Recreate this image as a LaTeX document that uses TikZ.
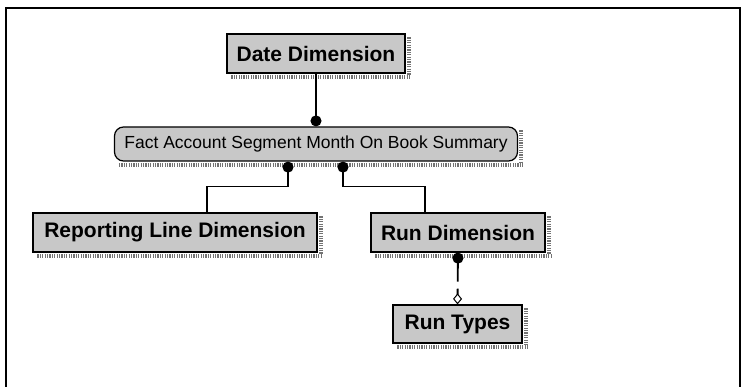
\documentclass[tikz,border=0pt]{standalone}
\usepackage{fontspec}
\setmainfont{Liberation Sans}
\usetikzlibrary{arrows.meta}
\definecolor{boxgray}{RGB}{200,200,200}
\definecolor{shd}{RGB}{115,115,115}
\tikzstyle{ent}=[rectangle,draw=black,line width=1.2pt,fill=boxgray,inner sep=0pt,font=\fontsize{21}{24}\selectfont\bfseries]
\tikzstyle{fct}=[ent,rounded corners=9pt,font=\fontsize{17.5}{20}\selectfont]
\tikzstyle{rel}=[line width=1.2pt,black]
\tikzstyle{shad}=[shd,line width=4pt,dash pattern=on 1.2pt off 1.2pt]

\begin{document}
\begin{tikzpicture}[x=1pt,y=-1pt]
\useasboundingbox (0,0) rectangle (748,387);
\draw[line width=2.8pt] (6,387) -- (6,8) -- (740,8) -- (740,387);
\node[ent,minimum width=178pt,minimum height=39pt] (date) at (316,53.5) {Date Dimension};
\node[fct,minimum width=403pt,minimum height=34pt] (fact) at (316,144) {Fact Account Segment Month On Book Summary};
\node[ent,minimum width=284pt,minimum height=39pt] (rep) at (175,232.5) {Reporting Line Dimension};
\node[ent,minimum width=174pt,minimum height=39pt] (run) at (458,232.5) {Run Dimension};
\node[ent,minimum width=129pt,minimum height=38pt] (typ) at (457.5,324) {Run Types};
\foreach \n in {date,fact,rep,run,typ}{
  \draw[shad] ([xshift=5pt,yshift=-3.2pt]\n.south west) -- ([xshift=5.2pt,yshift=-3.2pt]\n.south east);
  \draw[shad] ([xshift=3.2pt,yshift=-4pt]\n.north east) -- ([xshift=3.2pt,yshift=-1.2pt]\n.south east);
}
\draw[rel,-{Circle[length=11pt]}] (date.south) -- (fact.north);
\draw[rel,{Circle[length=11pt]}-] ([xshift=-28pt]fact.south) -- ++(0,25) -| ([xshift=32pt]rep.north);
\draw[rel,{Circle[length=11pt]}-] ([xshift=27pt]fact.south) -- ++(0,25) -| ([xshift=-33pt]run.north);
\draw[rel,line width=1.8pt,dash pattern=on 19pt off 7pt on 30pt,{Circle[length=11pt]}-{Diamond[open,length=11pt,width=9pt,line width=1pt]}] (run.south) -- (typ.north);
\end{tikzpicture}
\end{document}
